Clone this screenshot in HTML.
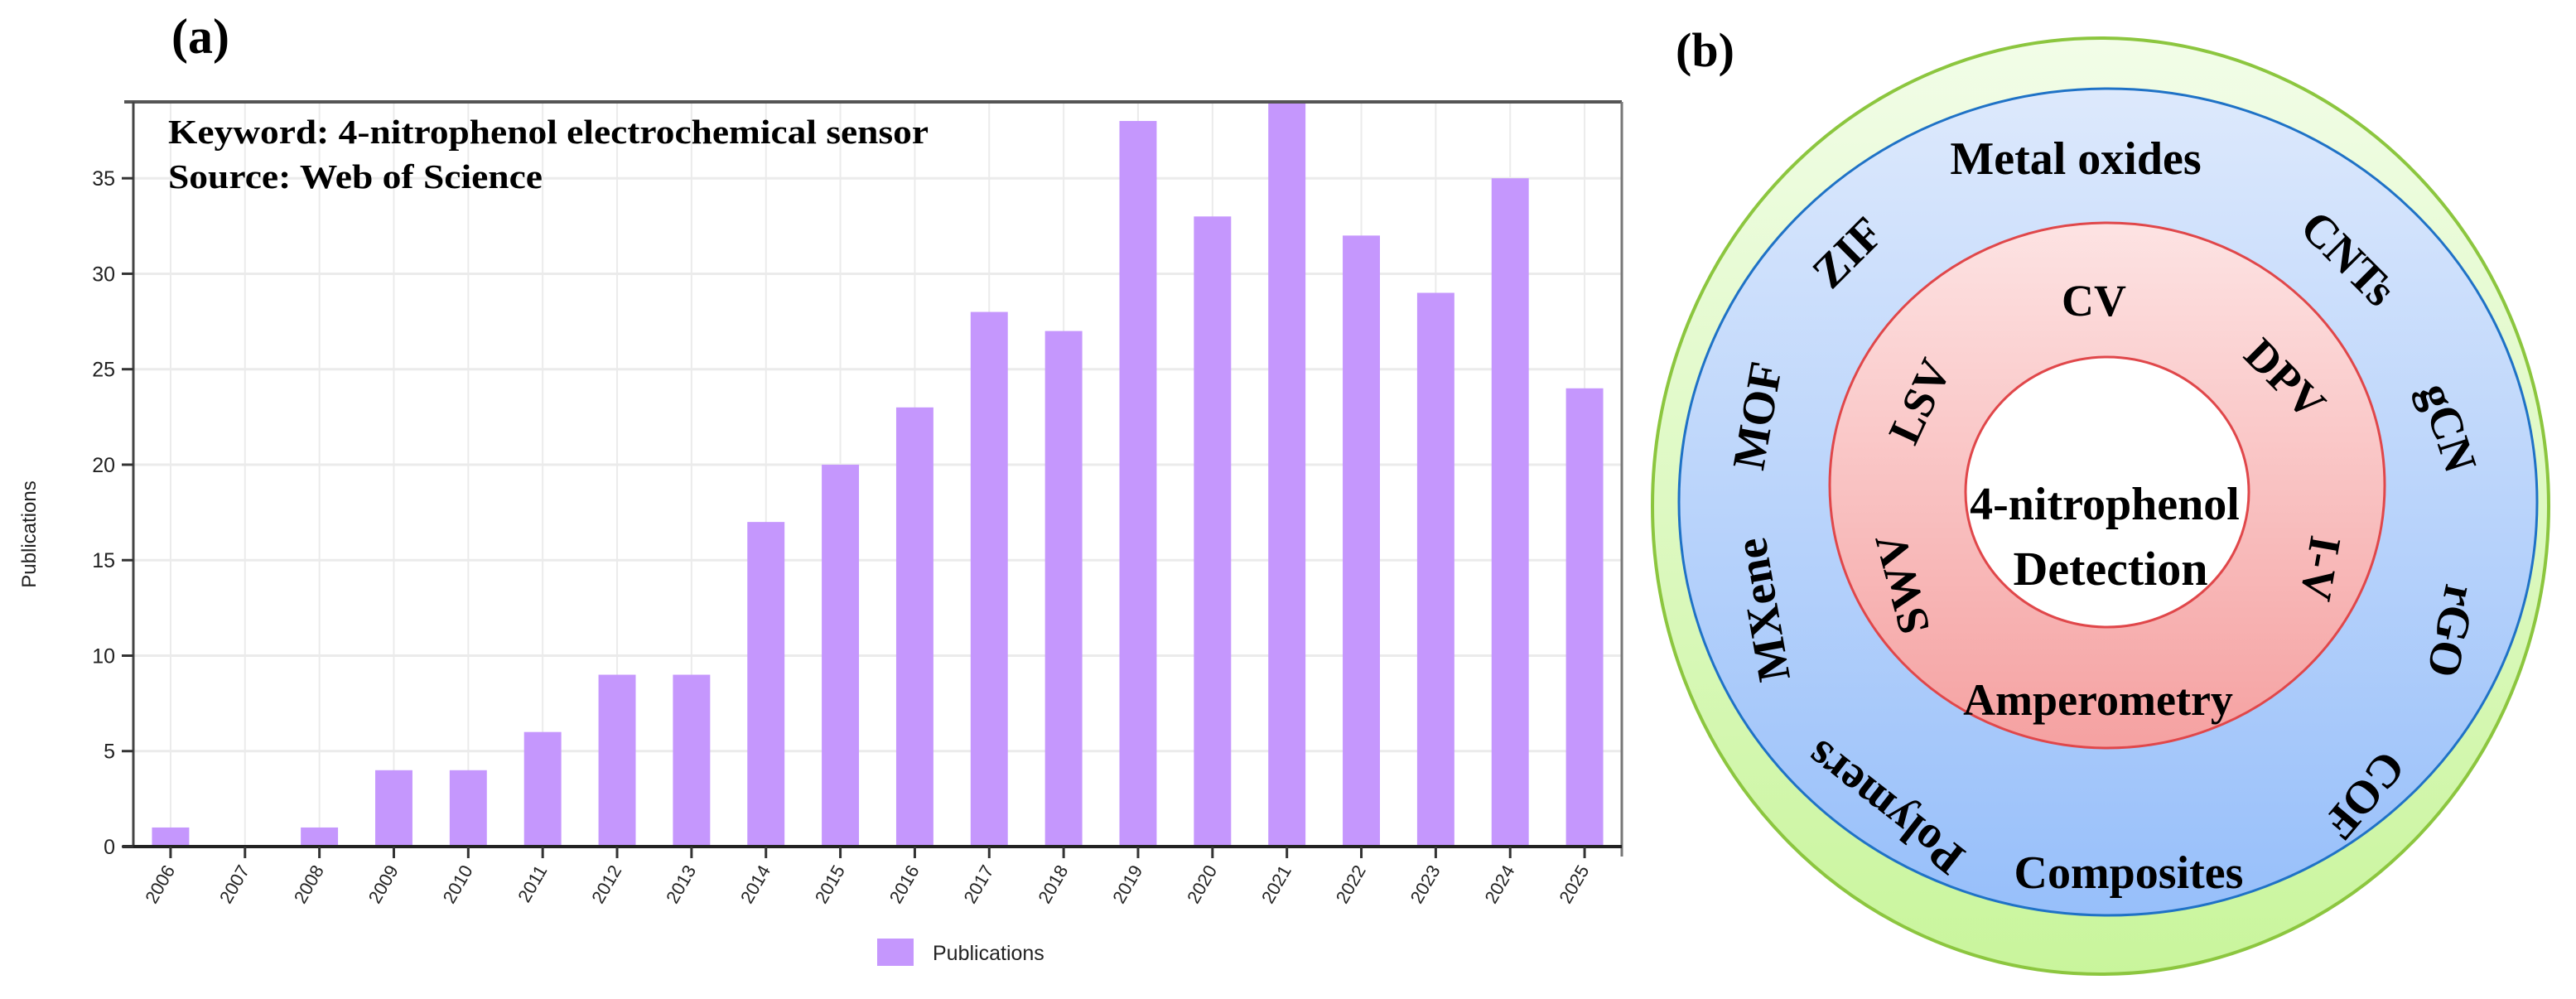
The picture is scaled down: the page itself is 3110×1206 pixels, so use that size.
<!DOCTYPE html>
<html><head><meta charset="utf-8"><style>
html,body{margin:0;padding:0;background:#fff;}
svg{display:block;}
.ser{font-family:"Liberation Serif",serif;font-weight:bold;fill:#000;}
.san{font-family:"Liberation Sans",sans-serif;fill:#222;}
</style></head><body>
<svg id="fig" width="3110" height="1206" viewBox="0 0 3110 1206" xmlns="http://www.w3.org/2000/svg">
<defs>
<linearGradient id="gGreen" x1="0" y1="0" x2="0" y2="1"><stop offset="0" stop-color="#f2fde8"/><stop offset="1" stop-color="#c9f59c"/></linearGradient>
<linearGradient id="gBlue" x1="0" y1="0" x2="0" y2="1"><stop offset="0" stop-color="#dde9fc"/><stop offset="1" stop-color="#97bffa"/></linearGradient>
<linearGradient id="gRed" x1="0" y1="0" x2="0" y2="1"><stop offset="0" stop-color="#fde3e3"/><stop offset="1" stop-color="#f5a1a1"/></linearGradient>
</defs>
<text class="ser" x="207" y="64" font-size="60">(a)</text>
<g id="chart"></g>
<g>
<text class="ser" x="2023" y="80" font-size="58">(b)</text>
<ellipse cx="2536" cy="611" rx="541" ry="565" fill="url(#gGreen)" stroke="#8cc63f" stroke-width="4"/>
<ellipse cx="2545" cy="606" rx="518" ry="499" fill="url(#gBlue)" stroke="#1f72c6" stroke-width="3"/>
<ellipse cx="2544" cy="586" rx="335" ry="317" fill="url(#gRed)" stroke="#e0474a" stroke-width="3"/>
<ellipse cx="2544" cy="594" rx="171" ry="163" fill="#fff" stroke="#e0474a" stroke-width="3"/>
<g class="ser" font-size="56" text-anchor="middle">
<text x="2506" y="210">Metal oxides</text>
<text x="2570" y="1072">Composites</text>
<text transform="translate(2244,318) rotate(-45)">ZIF</text>
<text transform="translate(2822,325) rotate(45)">CNTs</text>
<text transform="translate(2140,505) rotate(-80)">MOF</text>
<text transform="translate(2938,522) rotate(72)">gCN</text>
<text transform="translate(2146,733) rotate(-100)">MXene</text>
<text transform="translate(2942,758) rotate(102)">rGO</text>
<text transform="translate(2840,948) rotate(130)">COF</text>
<text transform="translate(2287,960) rotate(-142)">Polymers</text>
</g>
<g class="ser" font-size="54" text-anchor="middle">
<text x="2528" y="381">CV</text>
<text x="2533" y="863">Amperometry</text>
<text transform="translate(2334,492) rotate(-65)">LSV</text>
<text transform="translate(2746,470) rotate(45)">DPV</text>
<text transform="translate(2314,700) rotate(-105)">SWV</text>
<text transform="translate(2784,683) rotate(100)">I-V</text>
<text x="2541" y="627" font-size="56">4-nitrophenol</text>
<text x="2548" y="706" font-size="58">Detection</text>
</g>
</g>
</svg>
<script>
const years = ["2006","2007","2008","2009","2010","2011","2012","2013","2014","2015","2016","2017","2018","2019","2020","2021","2022","2023","2024","2025"];
const publications = [1,0,1,4,4,6,9,9,17,20,23,28,27,38,33,39,32,29,35,24];
const yTicks = [0,5,10,15,20,25,30,35];
const yMax = 39;

(function () {
const NS = "http://www.w3.org/2000/svg";
const g = document.getElementById("chart");
const L = 161, R = 1958, T = 123, B = 1022;
const step = (R - L) / years.length;
const xCenter = i => L + step * (i + 0.5);
const yPos = v => B - (B - T) * v / yMax;
function mk(tag, attrs) {
  const e = document.createElementNS(NS, tag);
  for (const k in attrs) e.setAttribute(k, attrs[k]);
  g.appendChild(e);
  return e;
}
yTicks.forEach(t => {
  const ln = mk("line", {x1: L, x2: R, y1: yPos(t), y2: yPos(t), stroke: "#ebebeb", "stroke-width": 3});
  
  
});
years.forEach((y, i) => {
  const ln = mk("line", {x1: xCenter(i), x2: xCenter(i), y1: T, y2: B, stroke: "#ebebeb", "stroke-width": 2});
  
  
});
publications.forEach((v, i) => {
  const h = B - yPos(v);
  const r = mk("rect", {x: xCenter(i) - step * 0.25, y: yPos(v), width: step * 0.5, height: h, fill: "#c597fd"});
  
  
});
const topBorder = mk("line", {x1: 150, x2: R, y1: T, y2: T, stroke: "#555", "stroke-width": 4});


const rb = mk("line", {x1: R, x2: R, y1: T, y2: B + 12, stroke: "#777", "stroke-width": 3});


const ya = mk("line", {x1: L, x2: L, y1: T, y2: B, stroke: "#444", "stroke-width": 3});


const xa = mk("line", {x1: 148, x2: R, y1: B, y2: B, stroke: "#222", "stroke-width": 4});


yTicks.forEach(t => {
  const tk = mk("line", {x1: 147, x2: L, y1: yPos(t), y2: yPos(t), stroke: "#333", "stroke-width": 3});
  
  
  const lb = mk("text", {x: 139, y: yPos(t) + 9, "text-anchor": "end", "font-size": 25, "class": "san"});
  lb.textContent = t;
  
  
});
years.forEach((y, i) => {
  const tk = mk("line", {x1: xCenter(i), x2: xCenter(i), y1: B, y2: B + 14, stroke: "#333", "stroke-width": 3});
  
  
  const lb = mk("text", {transform: "translate(" + (xCenter(i) + 6) + "," + (B + 28) + ") rotate(-60)", "text-anchor": "end", "font-size": 22, "class": "san"});
  lb.textContent = y;
  
  
});
const yt = mk("text", {transform: "translate(43,645) rotate(-90)", "text-anchor": "middle", "font-size": 24, "class": "san"});
yt.textContent = "Publications";


const k1 = mk("text", {x: 203, y: 173, "font-size": 41, "class": "ser", textLength: 918, lengthAdjust: "spacingAndGlyphs"});
k1.textContent = "Keyword: 4-nitrophenol electrochemical sensor";


const k2 = mk("text", {x: 203, y: 227, "font-size": 41, "class": "ser", textLength: 452, lengthAdjust: "spacingAndGlyphs"});
k2.textContent = "Source: Web of Science";


const sw = mk("rect", {x: 1059, y: 1133, width: 44, height: 33, fill: "#c597fd"});


const lt = mk("text", {x: 1126, y: 1159, "font-size": 25, "class": "san"});
lt.textContent = "Publications";


})();
</script>
</body></html>
